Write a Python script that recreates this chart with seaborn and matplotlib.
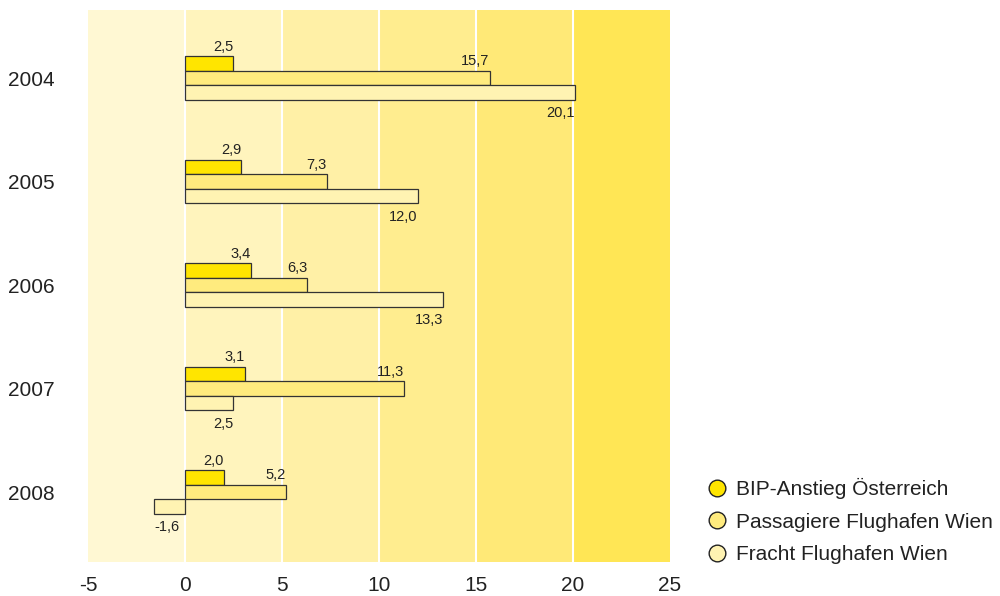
import matplotlib
matplotlib.use("Agg")
import matplotlib.pyplot as plt
from matplotlib.lines import Line2D
import seaborn as sns
import pandas as pd

# data
years = ["2004", "2005", "2006", "2007", "2008"]
bip = [2.5, 2.9, 3.4, 3.1, 2.0]
passagiere = [15.7, 7.3, 6.3, 11.3, 5.2]
fracht = [20.1, 12.0, 13.3, 2.5, -1.6]
series = ["BIP-Anstieg Österreich", "Passagiere Flughafen Wien", "Fracht Flughafen Wien"]
colors = ["#FFE500", "#FFEB7E", "#FFF3B2"]
band_edges = [-5, 0, 5, 10, 15, 20, 25]
band_colors = ["#FFF8D3", "#FFF4BD", "#FFF0A6", "#FFED8F", "#FFE977", "#FFE655"]

df = pd.DataFrame({
    "Jahr": years * 3,
    "Wert": bip + passagiere + fracht,
    "Reihe": [series[0]] * 5 + [series[1]] * 5 + [series[2]] * 5,
})

sns.set_style("white")
plt.rcParams["font.family"] = ["Liberation Sans", "DejaVu Sans"]
txt = "#222222"

fig = plt.figure(figsize=(10, 5.96), dpi=100)
ax = fig.add_axes([0.088, 0.057, 0.582, 0.926])

for i in range(len(band_colors)):
    ax.axvspan(band_edges[i], band_edges[i + 1], color=band_colors[i], lw=0, zorder=0)
for x in band_edges[1:-1]:
    ax.axvline(x, color="white", lw=1.5, zorder=1)

sns.barplot(data=df, x="Wert", y="Jahr", hue="Reihe",
            orient="h", palette=colors, saturation=1, width=0.42, dodge=True,
            edgecolor="#333333", linewidth=0.9, legend=False, ax=ax, zorder=3)

for k, cont in enumerate(ax.containers):
    for bar in cont:
        v = bar.get_width()
        y0 = bar.get_y()
        h = bar.get_height()
        label = f"{v:.1f}".replace(".", ",")
        ha = "right" if v >= 0 else "left"
        if k < 2:
            ax.text(v, y0 - 0.025, label, ha=ha, va="bottom", fontsize=10.5, color=txt, zorder=4)
        else:
            ax.text(v, y0 + h + 0.06, label, ha=ha, va="top", fontsize=10.5, color=txt, zorder=4)

ax.set_xlim(-5, 25)
ax.set_ylim(4.676, -0.657)
ax.set_xticks([-5, 0, 5, 10, 15, 20, 25])
ax.set_xticklabels(["-5", "0", "5", "10", "15", "20", "25"])
ax.set_xlabel("")
ax.set_ylabel("")
ax.tick_params(axis="both", length=0, labelsize=15, colors=txt)
ax.tick_params(axis="x", pad=10)
ax.tick_params(axis="y", pad=24)
for s in ax.spines.values():
    s.set_visible(False)

handles = [Line2D([0], [0], marker="o", linestyle="", markersize=12,
                  markerfacecolor=c, markeredgecolor="#222222", markeredgewidth=1)
           for c in colors]
fig.legend(handles, series, loc="lower left", bbox_to_anchor=(0.696, 0.036),
           frameon=False, fontsize=15, handletextpad=0.4, labelspacing=0.65,
           labelcolor=txt, handlelength=1.0, borderpad=0)

fig.savefig("out.png", dpi=100)
